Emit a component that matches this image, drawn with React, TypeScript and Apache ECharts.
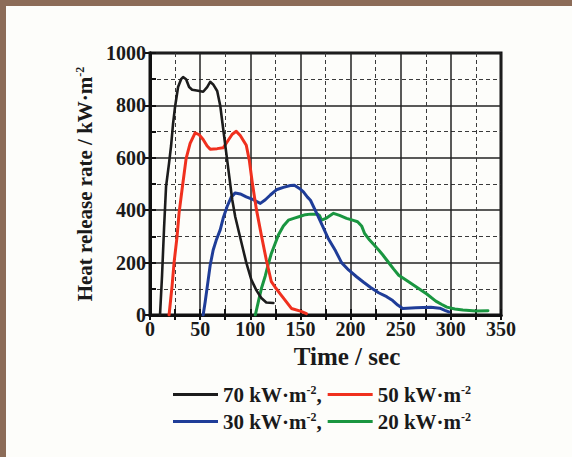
import React, { useEffect, useRef } from "react";
import * as echarts from "echarts";

// Heat release rate curves: [time (s), HRR (kW/m2)]
const hrr70: number[][] = [
  [10, 0], [12, 150], [14, 330], [16, 490], [19, 580], [21, 645], [23, 730], [25, 795],
  [28, 870], [31, 900], [33, 908], [36, 900], [39, 870], [42, 860], [48, 856], [53, 852],
  [57, 870], [60, 890], [63, 880], [67, 855], [70, 800], [73, 710], [76, 620], [79, 530],
  [82, 440], [85, 375], [90, 295], [96, 200], [101, 135], [106, 95], [111, 65], [116, 48], [123, 46],
];
const hrr50: number[][] = [
  [19, 0], [22, 110], [24, 200], [27, 300], [29, 390], [32, 480], [36, 597], [40, 655],
  [45, 695], [49, 688], [53, 670], [57, 645], [60, 633], [67, 635], [73, 638], [78, 667],
  [82, 690], [86, 701], [90, 685], [96, 648], [99, 591], [102, 505], [106, 405], [111, 305],
  [116, 210], [121, 127], [125, 105], [130, 80], [136, 50], [141, 25], [150, 15], [156, 5],
];
const hrr30: number[][] = [
  [53, 0], [55, 50], [58, 133], [60, 190], [63, 248], [66, 285], [70, 325], [73, 370],
  [77, 415], [81, 450], [85, 466], [90, 462], [96, 451], [103, 440], [110, 426], [115, 440],
  [120, 458], [126, 478], [133, 487], [140, 494], [144, 495], [149, 483], [153, 470], [157, 450],
  [160, 438], [166, 390], [172, 340], [178, 290], [185, 245], [191, 200], [198, 172], [206, 146],
  [213, 125], [220, 105], [228, 85], [236, 70], [242, 55], [247, 38], [252, 25], [265, 28],
  [280, 30], [289, 26], [294, 18], [298, 12],
];
const hrr20: number[][] = [
  [105, 0], [108, 50], [111, 100], [115, 150], [118, 195], [121, 235], [125, 275], [128, 305],
  [133, 340], [138, 362], [144, 370], [150, 377], [155, 383], [160, 385], [167, 385], [169, 380],
  [171, 362], [176, 370], [183, 388], [189, 380], [196, 369], [202, 362], [207, 356], [211, 340],
  [214, 311], [219, 286], [224, 265], [228, 248], [232, 230], [236, 210], [240, 190], [243, 175],
  [248, 152], [256, 132], [266, 106], [276, 80], [285, 53], [291, 40], [296, 30], [304, 23],
  [312, 19], [325, 15], [337, 16],
];

const seriesNames = ["70", "50", "30", "20"];
const seriesColors = ["#1c1c1c", "#f0301e", "#1f3d98", "#1a9640"];
const xMin = 0, xMax = 350, xStep = 50;
const yMin = 0, yMax = 1000, yStep = 200;

const FONT = '"Liberation Serif", "Times New Roman", serif';
const INK = "#1a1a1a";

export default function App() {
  const ref = useRef<HTMLDivElement>(null);

  useEffect(() => {
    if (!ref.current) return;
    const chart = echarts.init(ref.current, null, { renderer: "svg" });
    const datas = [hrr70, hrr50, hrr30, hrr20];

    const legendRich = {
      a: { fontFamily: FONT, fontWeight: "bold", fontSize: 21, color: INK },
      s: { fontFamily: FONT, fontWeight: "bold", fontSize: 12, color: INK, verticalAlign: "top", padding: [0, 0, 9, 0] },
    };
    const legendFmt = (name: string) =>
      name === "70" || name === "30" ? `{a|${name} kW·m}{s|-2}{a|,}` : `{a|${name} kW·m}{s|-2}`;

    const mkLegend = (data: string[], top: number) => ({
      data,
      left: 168,
      top,
      orient: "horizontal",
      icon: "rect",
      itemWidth: 45,
      itemHeight: 3,
      itemGap: 6,
      selectedMode: false,
      formatter: legendFmt,
      textStyle: { rich: legendRich, padding: [0, 0, 0, 0] },
    });

    const gridLineMajor = { show: true, lineStyle: { color: "#222", width: 1.5, type: "solid" } };
    const gridLineMinor = { show: true, lineStyle: { color: "#3a3a3a", width: 1, type: [4, 3] } };
    const axisLine = { show: true, lineStyle: { color: "#111", width: 3 } };
    const numFmt = (v: number) => String(v);

    chart.setOption({
      animation: false,
      backgroundColor: "#fdfdfa",
      grid: {
        left: 150, right: 71, top: 53, bottom: 142,
        show: true, borderColor: "#111", borderWidth: 3, backgroundColor: "transparent",
      },
      legend: [mkLegend(["70", "50"], 379), mkLegend(["30", "20"], 406)],
      xAxis: [
        {
          type: "value", min: xMin, max: xMax, interval: xStep,
          axisLine,
          axisTick: { show: true, inside: true, length: 6, lineStyle: { color: "#111", width: 2 } },
          minorTick: { show: true, splitNumber: 2, length: 6, lineStyle: { color: "#111", width: 2 } },
          splitLine: gridLineMajor,
          minorSplitLine: gridLineMinor,
          axisLabel: { color: INK, fontFamily: FONT, fontWeight: "bold", fontSize: 20, margin: 4, formatter: numFmt },
        },
        {
          type: "value", position: "top", min: xMin, max: xMax, interval: xStep / 2,
          axisLine,
          axisTick: { show: true, inside: true, length: 5, lineStyle: { color: "#111", width: 2 } },
          splitLine: { show: false },
          axisLabel: { show: false },
        },
      ],
      yAxis: [
        {
          type: "value", min: yMin, max: yMax, interval: yStep,
          axisLine,
          axisTick: { show: true, inside: true, length: 6, lineStyle: { color: "#111", width: 2 } },
          minorTick: { show: true, splitNumber: 2, length: 6, lineStyle: { color: "#111", width: 2 } },
          splitLine: gridLineMajor,
          minorSplitLine: gridLineMinor,
          axisLabel: { color: INK, fontFamily: FONT, fontWeight: "bold", fontSize: 20, margin: 4, formatter: numFmt },
          name: "{a|Heat release rate / kW·m}{s|-2}",
          nameLocation: "middle",
          nameGap: 50,
          nameTextStyle: {
            rich: {
              a: { fontFamily: FONT, fontWeight: "bold", fontSize: 21, color: INK },
              s: { fontFamily: FONT, fontWeight: "bold", fontSize: 12, color: INK, verticalAlign: "top", padding: [0, 0, 8, 0] },
            },
          },
        },
        {
          type: "value", position: "right", min: yMin, max: yMax, interval: yStep,
          axisLine,
          axisTick: { show: true, inside: true, length: 5, lineStyle: { color: "#111", width: 2 } },
          splitLine: { show: false },
          axisLabel: { show: false },
        },
      ],
      graphic: [
        { type: "rect", left: 0, top: 0, shape: { width: 572, height: 6 }, style: { fill: "#8c6c58" }, silent: true },
        { type: "rect", left: 0, top: 0, shape: { width: 6, height: 457 }, style: { fill: "#8c6c58" }, silent: true },
        {
          type: "text", x: 347, y: 356,
          style: {
            text: "Time / sec", fontFamily: FONT, fontWeight: "bold", fontSize: 25, fill: INK,
            align: "center", verticalAlign: "middle",
          },
        },
      ],
      series: datas.map((d, i) => ({
        name: seriesNames[i],
        type: "line",
        data: d,
        showSymbol: false,
        symbol: "none",
        smooth: false,
        lineStyle: { color: seriesColors[i], width: i === 0 ? 2.6 : 3, join: "round", cap: "round" },
        itemStyle: { color: seriesColors[i] },
        z: 5 - i,
      })),
    });

    return () => chart.dispose();
  }, []);

  return (
    <div
      ref={ref}
      style={{ position: "fixed", left: 0, top: 0, width: 572, height: 457 }}
    />
  );
}
